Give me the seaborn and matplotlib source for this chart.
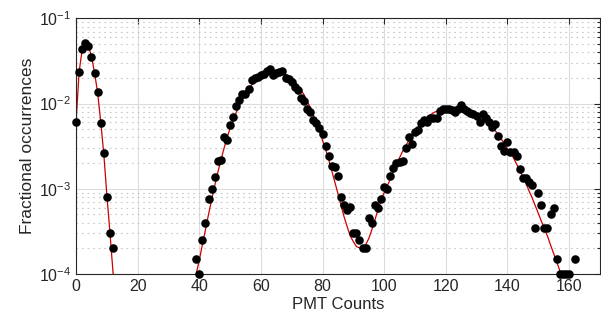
import numpy as np
import pandas as pd
import seaborn as sns
import matplotlib
matplotlib.use("Agg")
import matplotlib.pyplot as plt
from matplotlib.ticker import LogLocator, NullFormatter

# measured histogram (fraction of events per PMT count bin)
counts = [0, 1, 2, 3, 4, 5, 6, 7, 8, 9, 10, 11, 12,
          39, 40, 41, 42, 43, 44, 45, 46, 47, 48, 49, 50, 51, 52, 53, 54, 55,
          56, 57, 58, 59, 60, 61, 62, 63, 64, 65, 66, 67, 68, 69, 70, 71, 72,
          73, 74, 75, 76, 77, 78, 79, 80, 81, 82, 83, 84, 85, 86, 87, 88, 89,
          90, 91, 92, 93, 94, 95, 96, 97, 98, 99, 100, 101, 102, 103, 104, 105,
          106, 107, 108, 109, 110, 111, 112, 113, 114, 115, 116, 117, 118, 119,
          120, 121, 122, 123, 124, 125, 126, 127, 128, 129, 130, 131, 132, 133,
          134, 135, 136, 137, 138, 139, 140, 141, 142, 143, 144, 145, 146, 147,
          148, 149, 150, 151, 152, 153, 154, 155, 156, 157, 158, 159, 160, 162]
fraction = [0.0060, 0.0232, 0.0432, 0.0518, 0.0473, 0.0354, 0.0230, 0.0137,
            0.0059, 0.0026, 0.0008, 0.0003, 0.0002,
            0.00015, 0.0001, 0.00025, 0.0004, 0.00075, 0.0010, 0.00138, 0.0021,
            0.0022, 0.0041, 0.0037, 0.0056, 0.0070, 0.0093, 0.0109, 0.0128,
            0.0128, 0.0150, 0.0188, 0.0197, 0.0206, 0.0215, 0.0225, 0.0242,
            0.0255, 0.0218, 0.0230, 0.0235, 0.0240, 0.0197, 0.0192, 0.0180,
            0.0157, 0.0146, 0.0117, 0.0107, 0.0087, 0.0080, 0.0065, 0.0059,
            0.0051, 0.0044, 0.0032, 0.0024, 0.00184, 0.0018, 0.0014, 0.0008,
            0.00064, 0.00056, 0.00061, 0.0003, 0.0003, 0.00025, 0.0002, 0.0002,
            0.00045, 0.0004, 0.00064, 0.0006, 0.00075, 0.00105, 0.0010, 0.0014,
            0.00175, 0.0020, 0.00205, 0.0021, 0.0030, 0.0040, 0.0034, 0.0047,
            0.0049, 0.0059, 0.0064, 0.0061, 0.0067, 0.0067, 0.0068, 0.0082,
            0.0086, 0.0087, 0.0087, 0.0085, 0.0080, 0.0087, 0.0096, 0.0087,
            0.0082, 0.0078, 0.0076, 0.0072, 0.0061, 0.0075, 0.0067, 0.0061,
            0.0053, 0.0057, 0.0042, 0.0032, 0.0028, 0.0035, 0.0027, 0.0027,
            0.0024, 0.0017, 0.00135, 0.00135, 0.0012, 0.0011, 0.00035, 0.0009,
            0.00064, 0.00035, 0.00035, 0.0005, 0.0006, 0.00015, 0.0001, 0.0001,
            0.0001, 0.0001, 0.00015]

# fitted curve, pedestal part
fit1_x = list(range(0, 14))
fit1_y = [0.0060, 0.0235, 0.043, 0.052, 0.048, 0.036, 0.0232, 0.0135, 0.0062,
          0.0026, 0.00085, 0.00031, 0.000105, 0.00004]

# fitted curve, signal part
fit2_x = [39, 40, 41, 42, 43, 44, 45, 46, 47, 48, 49, 50, 52, 54, 56, 58, 60,
          62, 64, 66, 68, 70, 72, 74, 76, 77, 78, 79, 80, 81, 82, 83, 84, 85,
          86, 87, 88, 89, 90, 91, 92, 93, 94, 95, 96, 97, 98, 99, 100, 101, 102,
          104, 106, 108, 110, 112, 114, 116, 118, 120, 122, 124, 126, 128, 130,
          132, 134, 136, 138, 140, 142, 144, 146, 147, 148, 149, 150, 151, 152,
          153, 154, 155, 156, 157, 158]
fit2_y = [0.0001, 0.000145, 0.00022, 0.00033, 0.0005, 0.00074, 0.00108,
          0.00155, 0.00215, 0.00295, 0.00395, 0.0051, 0.0079, 0.0113, 0.0149,
          0.0183, 0.0211, 0.0231, 0.0240, 0.0237, 0.0222, 0.0196, 0.0163,
          0.0127, 0.0090, 0.0074, 0.0060, 0.0048, 0.0037, 0.0029, 0.0022,
          0.00163, 0.0012, 0.00088, 0.00064, 0.00047, 0.00036, 0.00028,
          0.00024, 0.00021, 0.000203, 0.000203, 0.00022, 0.00026, 0.00033,
          0.00043, 0.00057, 0.00072, 0.0009, 0.00107, 0.0013, 0.00195, 0.00275,
          0.0037, 0.0048, 0.0059, 0.00695, 0.0078, 0.00845, 0.0089, 0.00905,
          0.0090, 0.00865, 0.0081, 0.0076, 0.0068, 0.00585, 0.00485, 0.00385,
          0.00295, 0.0023, 0.00165, 0.00117, 0.00095, 0.00079, 0.00064,
          0.00052, 0.00042, 0.00034, 0.00028, 0.00022, 0.000175, 0.00014,
          0.00011, 0.000085]

sns.set_style("white")
plt.rcParams['font.family'] = ['Liberation Sans', 'DejaVu Sans']
plt.rcParams['mathtext.default'] = 'regular'

ink = '#262626'
fig = plt.figure(figsize=(6.01, 3.22), dpi=100)
ax = fig.add_axes([0.1265, 0.149, 0.8715, 0.794])

df = pd.DataFrame({'x': counts, 'y': fraction})
f1 = pd.DataFrame({'x': fit1_x, 'y': fit1_y})
f2 = pd.DataFrame({'x': fit2_x, 'y': fit2_y})

sns.lineplot(data=f1, x='x', y='y', ax=ax, color='#cc0000', lw=0.9,
             sort=False, estimator=None, zorder=2)
sns.lineplot(data=f2, x='x', y='y', ax=ax, color='#cc0000', lw=0.9,
             sort=False, estimator=None, zorder=2)
sns.scatterplot(data=df, x='x', y='y', ax=ax, color='black', s=38,
                edgecolor='black', linewidth=0, zorder=3, clip_on=False)

ax.set_yscale('log')
ax.set_xlim(0, 170)
ax.set_ylim(1e-4, 1e-1)
ax.set_xticks(range(0, 161, 20))
ax.yaxis.set_major_locator(LogLocator(base=10, numticks=10))
ax.yaxis.set_minor_locator(LogLocator(base=10, subs=np.arange(2, 10), numticks=10))
ax.yaxis.set_minor_formatter(NullFormatter())

ax.grid(True, which='major', color='#dcdcdc', lw=0.8, ls='-')
ax.grid(True, which='minor', axis='y', color='#c8c8c8', lw=0.8, ls=(0, (1.5, 3.5)))
ax.set_axisbelow(True)

ax.tick_params(which='both', direction='in', top=True, right=True,
               colors=ink, labelsize=11.5, width=0.8)
ax.tick_params(which='major', length=4)
ax.tick_params(which='minor', length=2.5)
for s in ax.spines.values():
    s.set_color(ink)
    s.set_linewidth(0.8)

ax.set_xlabel('PMT Counts', fontsize=12, color=ink, labelpad=2)
ax.set_ylabel('Fractional occurrences', fontsize=12.5, color=ink, labelpad=3)

fig.savefig('out.png', dpi=100)
